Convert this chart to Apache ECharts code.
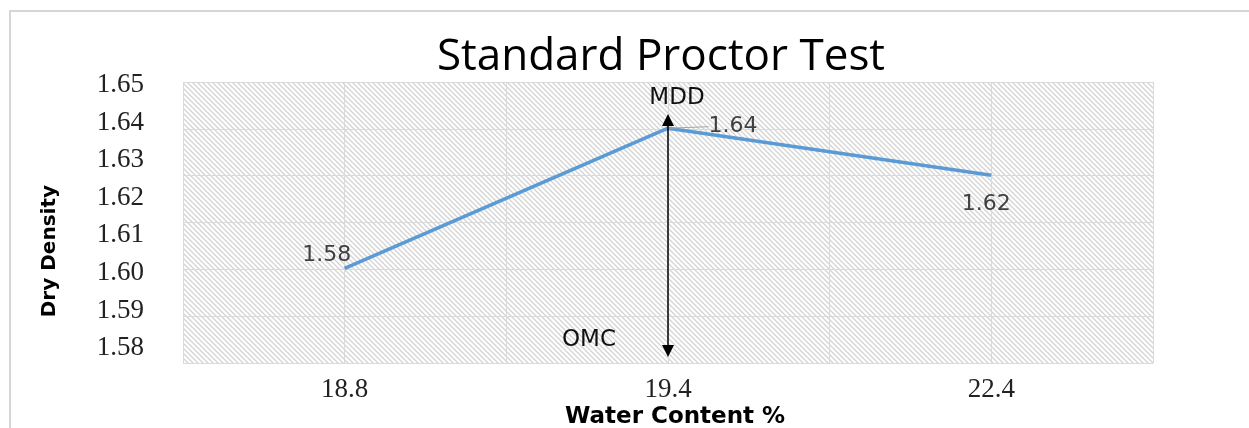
<!DOCTYPE html>
<html>
<head>
<meta charset="utf-8">
<script src="https://cdn.jsdelivr.net/npm/echarts@6/dist/echarts.min.js"></script>
<style>
html,body{margin:0;padding:0;background:#fff;}
#frame{position:absolute;left:9px;top:10px;width:1260px;height:440px;border:2px solid #d6d6d6;box-sizing:border-box;}
#chart{position:absolute;left:0;top:0;width:1249px;height:428px;}
</style>
</head>
<body>
<div id="frame"></div>
<div id="chart"></div>
<script>
// ---- data ----
const categories = ['18.8', '19.4', '22.4'];
const dryDensity = [1.6012, 1.6385, 1.6260];
const pointLabels = ['1.58', '1.64', '1.62'];
const yAxisMin = 1.57, yAxisMax = 1.66, yTickStep = 0.01;
const yLabelMin = 1.58, yLabelMax = 1.65;
const omcCategory = '19.4';
const arrowRange = [1.5792, 1.6407];
const mddLabelValue = 1.6465, omcLabelValue = 1.5821;

// hatch pattern
const T = 5;
const tile = document.createElement('canvas');
tile.width = T; tile.height = T;
const c = tile.getContext('2d');
c.fillStyle = '#ffffff'; c.fillRect(0,0,T,T);
c.strokeStyle = '#d4d4d4'; c.lineWidth = 1.3;
for (const o of [-T, 0, T]) { c.beginPath(); c.moveTo(o - 1, -1); c.lineTo(o + T + 1, T + 1); c.stroke(); }

// label placement per point
const labelPos = ['top', 'top', 'bottom'];
const labelShift = [[-18, 3], [65, 15], [-5, 13]];
const showLeader = [false, true, false];
const seriesData = dryDensity.map((v, i) => ({
  value: v,
  label: { position: labelPos[i] },
  labelLine: { show: showLeader[i] }
}));

const chart = echarts.init(document.getElementById('chart'));
const L = 183, W = 970;
const step = 263 / 7;
chart.setOption({
  animation: false,
  title: {
    text: 'Standard Proctor Test', left: 656, top: 30, textAlign: 'center',
    textStyle: { fontFamily: 'Open Sans', fontSize: 44, fontWeight: 'normal', color: '#000' }
  },
  grid: [
    { left: L, width: W, top: 82, height: 281, show: true, borderWidth: 0,
      backgroundColor: { image: tile, repeat: 'repeat' } },
    { left: L, width: W, top: 85 - step, height: 263 + 2 * step, show: false }
  ],
  xAxis: [
    { gridIndex: 0, type: 'value', min: 0, max: 6, interval: 1,
      axisLine: { show: false }, axisTick: { show: false }, axisLabel: { show: false },
      splitLine: { show: true, lineStyle: { color: '#dadada', width: 1 } } },
    { gridIndex: 1, type: 'category', data: categories, boundaryGap: true,
      axisLine: { show: false }, axisTick: { show: false }, splitLine: { show: false },
      axisLabel: { margin: 28 - step, fontFamily: 'Liberation Serif', fontSize: 27, color: '#222' } }
  ],
  yAxis: [
    { gridIndex: 0, type: 'value', min: 0, max: 6, interval: 1,
      axisLine: { show: false }, axisTick: { show: false }, axisLabel: { show: false },
      splitLine: { show: true, lineStyle: { color: '#dadada', width: 1 } } },
    { gridIndex: 1, type: 'value', min: yAxisMin, max: yAxisMax, interval: yTickStep,
      axisLine: { show: false }, axisTick: { show: false }, splitLine: { show: false },
      axisLabel: { margin: 39, fontFamily: 'Liberation Serif', fontSize: 27, color: '#222',
        formatter: v => (v < yLabelMin - 1e-6 || v > yLabelMax + 1e-6) ? '' : v.toFixed(2) } }
  ],
  graphic: [
    { type: 'text', left: 40, top: 185, rotation: Math.PI / 2,
      style: { text: 'Dry Density', fontFamily: 'DejaVu Sans', fontWeight: 'bold', fontSize: 20, fill: '#000' } },
    { type: 'text', left: 565, top: 406,
      style: { text: 'Water Content %', fontFamily: 'DejaVu Sans', fontWeight: 'bold', fontSize: 23, fill: '#000' } }
  ],
  series: [{
    type: 'line', xAxisIndex: 1, yAxisIndex: 1, data: seriesData,
    clip: false, symbol: 'circle', symbolSize: 1, showSymbol: true, smooth: false,
    itemStyle: { color: 'rgba(91,155,213,0)' },
    lineStyle: { color: '#5b9bd5', width: 3.5 },
    label: {
      show: true, fontFamily: 'DejaVu Sans', fontSize: 22, color: '#404040',
      formatter: p => pointLabels[p.dataIndex]
    },
    labelLine: { show: true, lineStyle: { color: '#a6a6a6', width: 1 } },
    labelLayout: p => ({ dx: labelShift[p.dataIndex][0], dy: labelShift[p.dataIndex][1] }),
    markLine: {
      silent: true, symbol: ['triangle', 'triangle'], symbolSize: 12,
      lineStyle: { color: '#000', width: 1.5, type: 'solid' },
      label: { show: false },
      data: [[{ coord: [omcCategory, arrowRange[0]] }, { coord: [omcCategory, arrowRange[1]] }]]
    },
    markPoint: {
      silent: true, symbol: 'circle', symbolSize: 1, itemStyle: { color: 'rgba(0,0,0,0)' },
      label: { show: true, position: 'inside', fontFamily: 'DejaVu Sans', fontSize: 23, color: '#111' },
      data: [
        { coord: [omcCategory, mddLabelValue], label: { formatter: 'MDD', offset: [9, 0] } },
        { coord: [omcCategory, omcLabelValue], label: { formatter: 'OMC', offset: [-79, 0] } }
      ]
    }
  }]
});
</script>
</body>
</html>
